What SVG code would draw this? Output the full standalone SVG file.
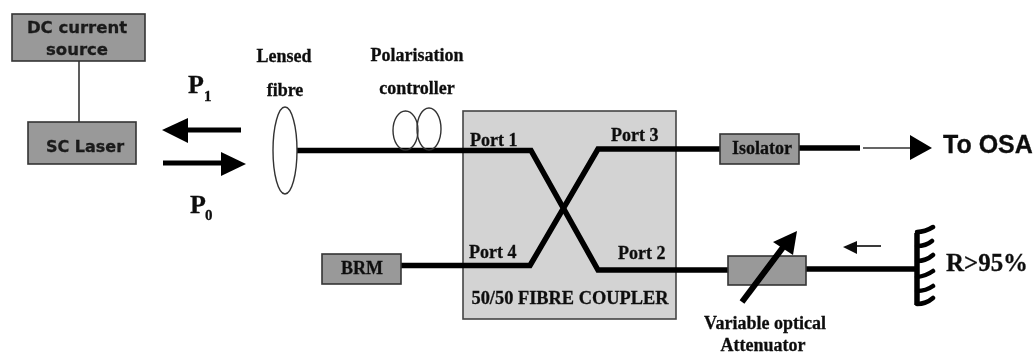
<svg xmlns="http://www.w3.org/2000/svg" width="1035" height="354" viewBox="0 0 1035 354">
<style>
.box{fill:#999;stroke:#333;stroke-width:1.6}
.fibre{fill:none;stroke:#000;stroke-width:5.5}
.thin{fill:none;stroke:#333;stroke-width:1.6}
.loop{fill:none;stroke:#333;stroke-width:1.4}
.ar{fill:none;stroke:#000;stroke-width:5}
.s{font-family:"DejaVu Sans",sans-serif;font-weight:700;fill:#1a1a1a;stroke:#1a1a1a;stroke-width:.3}
.t{font-family:"Liberation Serif",serif;font-weight:700;fill:#111;stroke:#111;stroke-width:.3}
</style>
<defs><filter id="b" x="-2%" y="-2%" width="104%" height="104%"><feGaussianBlur stdDeviation="0.55"/></filter></defs>
<rect width="1035" height="354" fill="#fff"/>
<g filter="url(#b)">
<g id="coupler"><rect x="463" y="111" width="213" height="208" fill="#d3d3d3" stroke="#444" stroke-width="1.6"/>
<text class="t" x="570" y="304" font-size="18" text-anchor="middle" textLength="197" lengthAdjust="spacingAndGlyphs">50/50 FIBRE COUPLER</text>
<text class="t" x="470" y="146" font-size="18">Port 1</text>
<text class="t" x="611" y="141" font-size="18">Port 3</text>
<text class="t" x="469" y="258" font-size="18">Port 4</text>
<text class="t" x="618" y="259" font-size="18">Port 2</text></g>
<g id="connectors">
<path class="thin" d="M79 61V122"/>
<path class="fibre" d="M297 150.500H531L598 270H728M806 269H917"/>
<path class="fibre" d="M401 265.500H530L598 149H720M799 148H860"/>
<path class="thin" d="M863 148H912"/>
<path d="M910 135L932 148L910 160Z" fill="#000"/>
<path class="ar" d="M241 130H185"/><path d="M162 130L188 118V143Z" fill="#000"/>
<path class="ar" d="M163 163H222"/><path d="M246 164L221 152V176Z" fill="#000"/>
<path d="M881 246H855" stroke="#222" stroke-width="1.8" fill="none"/><path d="M843 247L857 241V254Z" fill="#111"/>
</g>
<g id="dc-source"><rect class="box" x="12" y="14" width="133" height="47"/>
<text class="s" x="77" y="33" font-size="16.500" text-anchor="middle">DC current</text>
<text class="s" x="77" y="55" font-size="16.500" text-anchor="middle">source</text></g>
<g id="sc-laser"><rect class="box" x="28" y="122" width="108" height="42"/>
<text class="s" x="85" y="152" font-size="16" text-anchor="middle">SC Laser</text></g>
<g id="p1"><text class="t" x="188" y="93" font-size="26">P</text><text class="t" x="204" y="101" font-size="15">1</text></g>
<g id="p0"><text class="t" x="190" y="213" font-size="26">P</text><text class="t" x="205" y="220" font-size="15">0</text></g>
<g id="lensed-fibre"><ellipse class="loop" cx="285" cy="150.500" rx="12" ry="43.500"/>
<text class="t" x="284" y="62" font-size="18" text-anchor="middle">Lensed</text>
<text class="t" x="285" y="96" font-size="18" text-anchor="middle">fibre</text></g>
<g id="polarisation-controller"><ellipse class="loop" cx="405.500" cy="130.500" rx="12.500" ry="19.500"/><ellipse class="loop" cx="429" cy="129" rx="12" ry="21"/>
<text class="t" x="417" y="61" font-size="18" text-anchor="middle">Polarisation</text>
<text class="t" x="417" y="94" font-size="18" text-anchor="middle">controller</text></g>
<g id="brm"><rect class="box" x="322" y="254" width="79" height="30"/>
<text class="t" x="362" y="274" font-size="18" text-anchor="middle">BRM</text></g>
<g id="isolator"><rect class="box" x="720" y="134" width="79" height="30"/>
<text class="t" x="762" y="154" font-size="18" text-anchor="middle">Isolator</text></g>
<g id="attenuator"><rect class="box" x="728" y="256" width="78" height="29"/>
<path d="M742 302L784 246" stroke="#000" stroke-width="6" fill="none"/><path d="M797 231L793 255L773 242Z" fill="#000"/>
<text class="t" x="765" y="329" font-size="18" text-anchor="middle">Variable optical</text>
<text class="t" x="763" y="351" font-size="18" text-anchor="middle">Attenuator</text></g>
<g id="mirror"><path d="M917 305V233" stroke="#000" stroke-width="5.500" fill="none"/>
<path d="M917 232Q925 232 933 227M917 246Q926 246 932 241M917 261Q926 261 933 255M917 277Q926 276 933 271M917 291Q926 291 933 286M917 304Q926 304 933 298" stroke="#000" stroke-width="4.500" fill="none" stroke-linecap="round"/>
<text class="t" x="946" y="271" font-size="26" textLength="82" lengthAdjust="spacingAndGlyphs">R&gt;95%</text></g>
<text id="to-osa" x="943" y="153" font-family="Liberation Sans, sans-serif" font-weight="700" font-size="25" fill="#111" stroke="#111" stroke-width=".3">To OSA</text>
</g>
</svg>
